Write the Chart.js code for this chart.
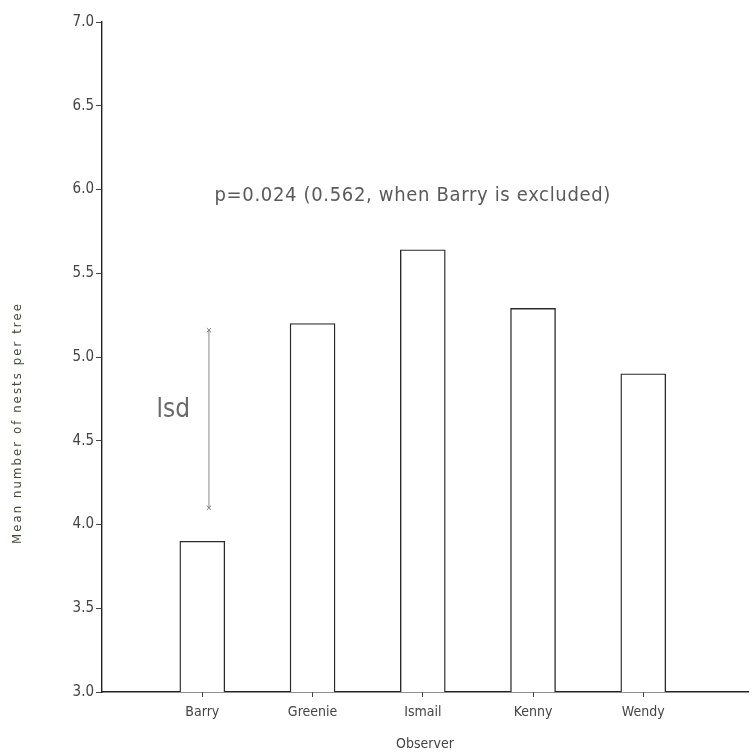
<!DOCTYPE html>
<html>
<head>
<meta charset="utf-8">
<script src="https://cdn.jsdelivr.net/npm/chart.js@4.4.1/dist/chart.umd.min.js"></script>
<style>
  html, body { margin: 0; padding: 0; background: #fff; }
  #wrap { width: 753px; height: 755px; position: relative; }
</style>
</head>
<body>
<div id="wrap"><canvas id="c" width="753" height="755"></canvas></div>
<script>
// ---- data ----
const observers = ['Barry', 'Greenie', 'Ismail', 'Kenny', 'Wendy'];
const meanNests = [3.90, 5.20, 5.64, 5.29, 4.90];
const yTickValues = [3.0, 3.5, 4.0, 4.5, 5.0, 5.5, 6.0, 6.5, 7.0];
const lsdRange = [4.10, 5.16];
const lsdAt = 1.06;
const pText = 'p=0.024 (0.562, when Barry is excluded)';
const lsdText = 'lsd';
const yTitle = 'Mean number of nests per tree';
const xTitle = 'Observer';

const FONT = '"Liberation Sans Narrow", "DejaVu Sans Condensed", "Liberation Sans", sans-serif';

function spacedText(ctx, text, x, y, target) {
  ctx.letterSpacing = '0px';
  const w = ctx.measureText(text).width;
  const sp = Math.max(0, (target - w) / (text.length - 1));
  ctx.letterSpacing = sp.toFixed(2) + 'px';
  ctx.fillText(text, x, y);
  ctx.letterSpacing = '0px';
}

const annotations = {
  id: 'annotations',
  afterDatasetsDraw(chart) {
    const ctx = chart.ctx;
    const xs = chart.scales.x, ys = chart.scales.y;
    ctx.save();
    ctx.textBaseline = 'middle';
    ctx.textAlign = 'left';
    // p-value note
    ctx.fillStyle = '#5a5a5a';
    ctx.font = '20px ' + FONT;
    spacedText(ctx, pText, xs.getPixelForValue(1.11), ys.getPixelForValue(5.96), 396);
    // lsd label
    ctx.fillStyle = '#6a6a6a';
    ctx.font = '26px ' + FONT;
    spacedText(ctx, lsdText, xs.getPixelForValue(0.585), ys.getPixelForValue(4.68), 33);
    // y axis title
    ctx.fillStyle = '#3e4a33';
    ctx.font = '13px ' + FONT;
    ctx.translate(chart.chartArea.left - 84, ys.getPixelForValue(4.6));
    ctx.rotate(-Math.PI / 2);
    const tw = 240;
    spacedText(ctx, yTitle, -tw / 2, 0, tw);
    ctx.restore();
  }
};

const ctx = document.getElementById('c').getContext('2d');
new Chart(ctx, {
  type: 'bar',
  data: {
    datasets: [
      {
        type: 'bar',
        data: observers.map((n, i) => ({ x: i + 1, y: meanNests[i] })),
        backgroundColor: '#ffffff',
        borderColor: '#2a2a2a',
        borderWidth: 1.4,
        barThickness: 45,
        borderSkipped: 'start',
        order: 2
      },
      {
        type: 'line',
        data: lsdRange.map(v => ({ x: lsdAt, y: v })),
        borderColor: '#8a8a8a',
        borderWidth: 1,
        pointStyle: 'crossRot',
        pointRadius: 3,
        pointBorderColor: '#777',
        pointBorderWidth: 1,
        fill: false,
        order: 1
      }
    ]
  },
  options: {
    responsive: false,
    animation: false,
    layout: { padding: { top: 22, left: 0, right: 0, bottom: 0 } },
    plugins: {
      legend: { display: false },
      tooltip: { enabled: false }
    },
    scales: {
      x: {
        type: 'linear',
        offset: false,
        min: 0.09,
        max: 5.95,
        afterBuildTicks: s => { s.ticks = observers.map((n, i) => ({ value: i + 1 })); },
        afterFit: s => { s.height = 63; },
        grid: { offset: false, drawOnChartArea: false, drawTicks: true, tickLength: 5, color: '#444', lineWidth: 1 },
        border: { color: '#222', width: 1.4 },
        ticks: {
          callback: v => observers[Math.round(v) - 1] || '',
          font: { family: FONT, size: 14 },
          color: '#444',
          padding: 7,
          autoSkip: false,
          maxRotation: 0
        },
        title: {
          display: true,
          text: xTitle,
          font: { family: FONT, size: 14 },
          color: '#444',
          padding: { top: 2, bottom: 2 }
        }
      },
      y: {
        min: 3,
        max: 7,
        afterBuildTicks: s => { s.ticks = yTickValues.map(v => ({ value: v })); },
        afterFit: s => { s.width = 102; },
        grid: { drawOnChartArea: false, drawTicks: true, tickLength: 6, color: '#444', lineWidth: 1 },
        border: { color: '#222', width: 1.4 },
        ticks: {
          callback: v => Number(v).toFixed(1),
          font: { family: FONT, size: 15 },
          color: '#444',
          padding: 2
        }
      }
    }
  },
  plugins: [annotations]
});
</script>
</body>
</html>
